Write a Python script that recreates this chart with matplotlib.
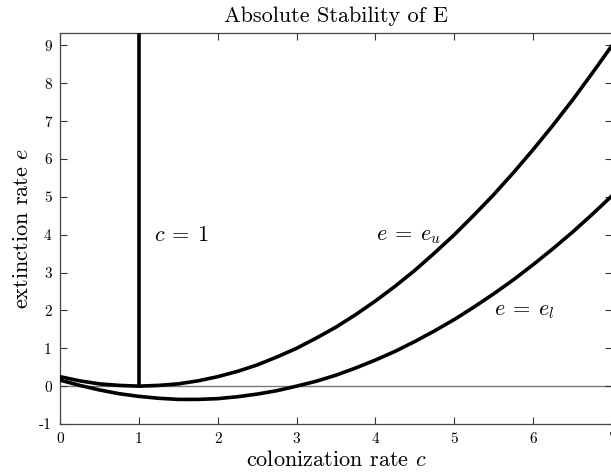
import matplotlib
matplotlib.use("Agg")
import matplotlib.pyplot as plt

plt.rcParams["font.family"] = "serif"
plt.rcParams["font.serif"] = ["cmr10"]
plt.rcParams["mathtext.fontset"] = "cm"
plt.rcParams["axes.unicode_minus"] = False
plt.rcParams["axes.formatter.use_mathtext"] = False

# colonization rate samples
c_vals = [0.0, 0.25, 0.5, 0.75, 1.0, 1.25, 1.5, 1.75, 2.0, 2.25, 2.5, 2.75,
          3.0, 3.25, 3.5, 3.75, 4.0, 4.25, 4.5, 4.75, 5.0, 5.25, 5.5, 5.75,
          6.0, 6.25, 6.5, 6.75, 7.0]
# upper boundary e_u
e_upper = [0.25, 0.14, 0.06, 0.02, 0.0, 0.02, 0.06, 0.14, 0.25, 0.39, 0.56,
           0.77, 1.0, 1.27, 1.56, 1.89, 2.25, 2.64, 3.06, 3.52, 4.0, 4.52,
           5.06, 5.64, 6.25, 6.89, 7.56, 8.27, 9.0]
# lower boundary e_l
e_lower = [0.16, 0.02, -0.10, -0.20, -0.27, -0.32, -0.35, -0.35, -0.33,
           -0.28, -0.21, -0.12, 0.0, 0.13, 0.29, 0.48, 0.69, 0.92, 1.18, 1.46,
           1.76, 2.09, 2.44, 2.81, 3.21, 3.63, 4.07, 4.54, 5.03]

x_ticks = [0, 1, 2, 3, 4, 5, 6, 7]
y_ticks = [-1, 0, 1, 2, 3, 4, 5, 6, 7, 8, 9]
y_tick_labels = ["-1", "0", "1", "2", "3", "4", "5", "6", "7", "8", "9"]

fig = plt.figure(figsize=(6.11, 4.76), dpi=100)
ax = fig.add_axes([60 / 611, 52 / 476, 552 / 611, 391 / 476])

ax.axhline(0, color="#777777", lw=1.0, zorder=1)
ax.plot([1, 1], [0, 9.33], color="black", lw=2.6, solid_capstyle="butt", zorder=3)
ax.plot(c_vals, e_upper, color="black", lw=2.6, zorder=3)
ax.plot(c_vals, e_lower, color="black", lw=2.6, zorder=3)

ax.text(1.19, 3.98, r"$c\:=\:1$", fontsize=16, va="center", ha="left")
ax.text(4.01, 3.95, r"$e\:=\:e_u$", fontsize=16, va="center", ha="left")
ax.text(5.5, 1.97, r"$e\:=\:e_l$", fontsize=16, va="center", ha="left")

ax.set_xlim(0, 7)
ax.set_ylim(-1, 9.33)
ax.set_xticks(x_ticks)
ax.set_xticklabels([str(t) for t in x_ticks])
ax.set_yticks(y_ticks)
ax.set_yticklabels(y_tick_labels)
ax.tick_params(direction="in", top=True, right=True, length=5, width=0.8,
               labelsize=11, color="#333333", pad=6)
for s in ax.spines.values():
    s.set_color("#444444")
    s.set_linewidth(0.9)

ax.set_title("Absolute Stability of E", fontsize=16, pad=8)
ax.set_xlabel(r"colonization rate $c$", fontsize=16, labelpad=3)
ax.set_ylabel(r"extinction rate $e$", fontsize=16, labelpad=5)

fig.savefig("out.png", dpi=100)
